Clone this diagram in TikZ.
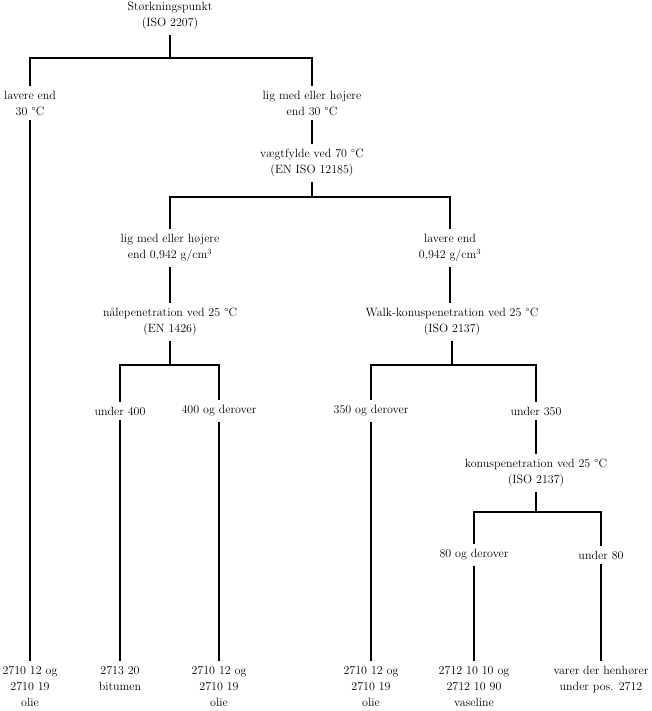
\documentclass[tikz,border=0pt]{standalone}
\usepackage{fontspec}
\usepackage{tikz}

\tikzset{
  crit/.style={align=center, inner sep=5pt, font=\fontsize{12}{16}\selectfont},
  fork/.style={line width=1.5pt}
}

\begin{document}
\begin{tikzpicture}[x=1pt,y=-1pt]
\useasboundingbox (0,0) rectangle (651,711);
% top of tree
\node[crit] (root) at (170,16) {Størkningspunkt\\(ISO 2207)};
\node[crit] (lav30) at (30,103) {lavere end\\30 °C};
\node[crit] (hoj30) at (312,103) {lig med eller højere\\end 30 °C};
\coordinate (j1) at (170,58);
\draw[fork] (root.south) -- (j1);
\draw[fork] (j1) -| (lav30.north);
\draw[fork] (j1) -| (hoj30.north);
% density
\node[crit] (vaegt) at (312,163) {vægtfylde ved 70 °C\\(EN ISO 12185)};
\draw[fork] (hoj30.south) -- (vaegt.north);
\node[crit] (hoj942) at (170,248) {lig med eller højere\\end 0,942 g/cm\textsuperscript{3}};
\node[crit] (lav942) at (450,248) {lavere end\\0,942 g/cm\textsuperscript{3}};
\coordinate (j2) at (312,197);
\draw[fork] (vaegt.south) -- (j2);
\draw[fork] (j2) -| (hoj942.north);
\draw[fork] (j2) -| (lav942.north);
% penetration
\node[crit] (naal) at (170,322) {nålepenetration ved 25 °C\\(EN 1426)};
\node[crit] (walk) at (452,322) {Walk-konuspenetration ved 25 °C\\(ISO 2137)};
\draw[fork] (hoj942.south) -- (naal.north);
\draw[fork] (lav942.south) -- (lav942.south |- walk.north);
\node[crit] (u400) at (120,411) {under 400};
\node[crit] (o400) at (219,411) {400 og derover};
\coordinate (j3) at (170,365);
\draw[fork] (naal.south) -- (j3);
\draw[fork] (j3) -| (u400.north);
\draw[fork] (j3) -| (o400.north);
\node[crit] (o350) at (371,411) {350 og derover};
\node[crit] (u350) at (536,411) {under 350};
\coordinate (j4) at (452,365);
\draw[fork] (walk.south) -- (j4);
\draw[fork] (j4) -| (o350.north);
\draw[fork] (j4) -| (u350.north);
% cone penetration
\node[crit] (konus) at (536,473) {konuspenetration ved 25 °C\\(ISO 2137)};
\draw[fork] (u350.south) -- (konus.north);
\node[crit] (o80) at (474,555) {80 og derover};
\node[crit] (u80) at (601,555) {under 80};
\coordinate (j5) at (536,512);
\draw[fork] (konus.south) -- (j5);
\draw[fork] (j5) -| (o80.north);
\draw[fork] (j5) -| (u80.north);
% results
\node[crit, anchor=north] (b1) at (30,661) {2710 12 og\\2710 19\\olie};
\node[crit, anchor=north] (b2) at (120,661) {2713 20\\bitumen};
\node[crit, anchor=north] (b3) at (219,661) {2710 12 og\\2710 19\\olie};
\node[crit, anchor=north] (b4) at (371,661) {2710 12 og\\2710 19\\olie};
\node[crit, anchor=north] (b5) at (474,661) {2712 10 10 og\\2712 10 90\\vaseline};
\node[crit, anchor=north] (b6) at (601,661) {varer der henhører\\under pos. 2712};
\draw[fork] (lav30.south) -- (b1.north);
\draw[fork] (u400.south) -- (b2.north);
\draw[fork] (o400.south) -- (b3.north);
\draw[fork] (o350.south) -- (b4.north);
\draw[fork] (o80.south) -- (b5.north);
\draw[fork] (u80.south) -- (b6.north);
\end{tikzpicture}
\end{document}
